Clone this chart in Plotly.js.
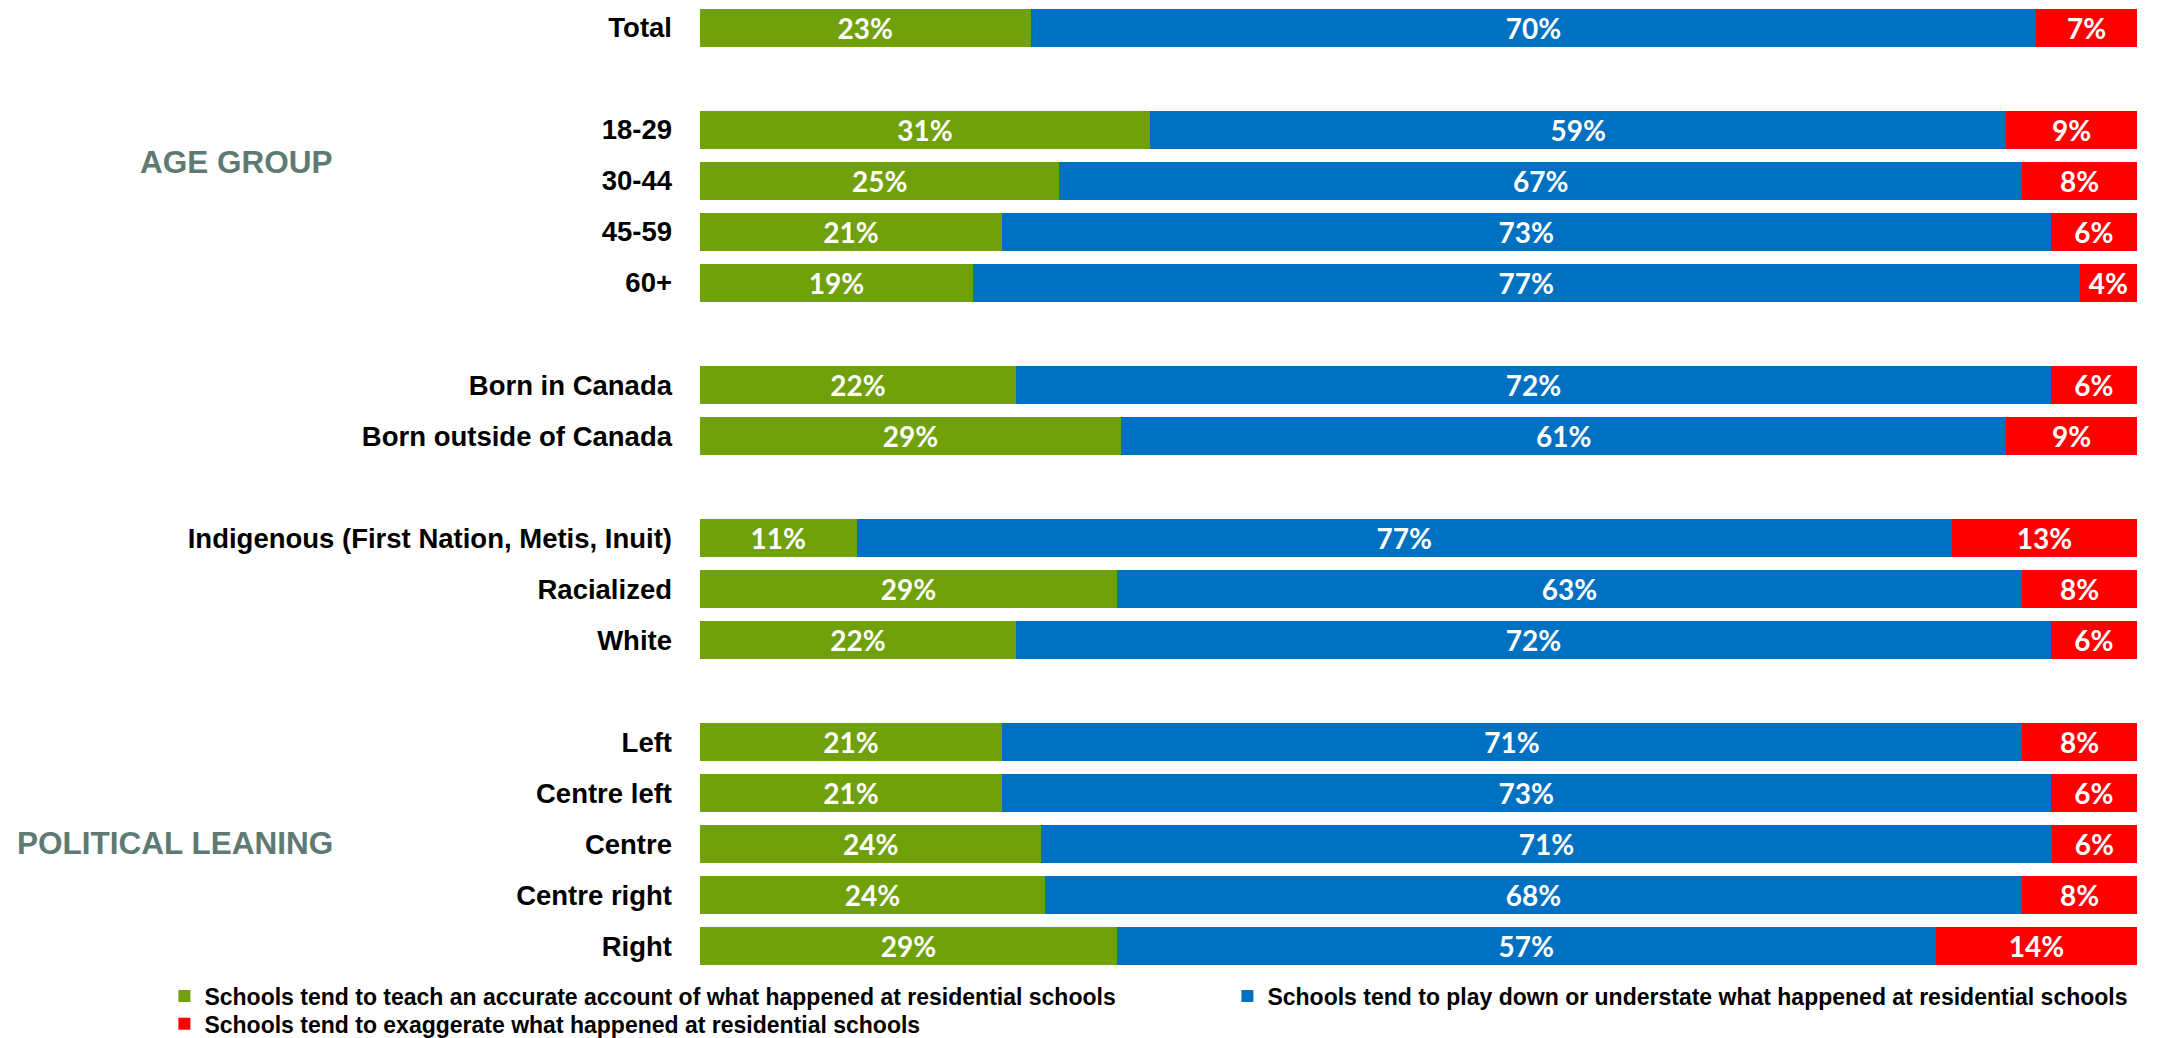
<!DOCTYPE html>
<html>
<head>
<meta charset="utf-8">
<script src="https://cdn.plot.ly/plotly-3.0.1.min.js"></script>
<style>
  html, body { margin: 0; padding: 0; background: #ffffff; }
  #chart { width: 2170px; height: 1038px; }
</style>
</head>
<body>
<div id="chart"></div>
<script>
// ---- data ----
const groups = [
  ["Total"],
  ["18-29", "30-44", "45-59", "60+"],
  ["Born in Canada", "Born outside of Canada"],
  ["Indigenous (First Nation, Metis, Inuit)", "Racialized", "White"],
  ["Left", "Centre left", "Centre", "Centre right", "Right"]
];
const accurate   = [23, 31, 25, 21, 19, 22, 29, 11, 29, 22, 21, 21, 24, 24, 29];
const playDown   = [70, 59, 67, 73, 77, 72, 61, 77, 63, 72, 71, 73, 71, 68, 57];
const exaggerate = [ 7,  9,  8,  6,  4,  6,  9, 13,  8,  6,  8,  6,  6,  8, 14];
const seriesNames = [
  "Schools tend to teach an accurate account of what happened at residential schools",
  "Schools tend to play down or understate what happened at residential schools",
  "Schools tend to exaggerate what happened at residential schools"
];
const groupLabels = ["AGE GROUP", "POLITICAL LEANING"];

// ---- layout helpers: a blank row between groups ----
const categories = [];
const slots = [];
let slot = 0;
groups.forEach((g, gi) => {
  if (gi > 0) slot += 1;
  g.forEach(name => { categories.push(name); slots.push(slot); slot += 1; });
});
const nSlots = slot;

const colors = ["#70a00a", "#0070c0", "#ff0000"];
const seriesValues = [accurate, playDown, exaggerate];
const legendIds = ["legend", "legend", "legend2"];

const traces = seriesValues.map((vals, i) => ({
  type: "bar",
  orientation: "h",
  name: seriesNames[i],
  legend: legendIds[i],
  x: vals,
  y: slots,
  text: vals.map(v => v + "%"),
  texttemplate: "%{text}",
  textposition: "inside",
  insidetextanchor: "middle",
  textangle: 0,
  constraintext: "none",
  textfont: { family: "Lato, 'Open Sans', sans-serif", size: 28, color: "#ffffff", weight: 700 },
  marker: { color: colors[i], line: { width: 0 } },
  hoverinfo: "skip"
}));

const legendFont = { family: "'Liberation Sans', Arial, sans-serif", size: 23, color: "#000000", weight: 700 };
const groupFont = { family: "'Liberation Sans', Arial, sans-serif", size: 31.5, color: "#5e7a73", weight: 700 };

const layout = {
  width: 2170,
  height: 1038,
  margin: { l: 700, r: 33, t: 2, b: 66, autoexpand: false },
  paper_bgcolor: "#ffffff",
  plot_bgcolor: "#ffffff",
  barmode: "stack",
  barnorm: "percent",
  bargap: 0.256,
  showlegend: true,
  xaxis: { visible: false, range: [0, 100], fixedrange: true },
  yaxis: {
    range: [nSlots - 0.5, -0.5],
    tickmode: "array",
    tickvals: slots,
    ticktext: categories,
    showgrid: false,
    zeroline: false,
    showline: false,
    ticks: "",
    ticklabelstandoff: 27,
    tickfont: { family: "'Liberation Sans', Arial, sans-serif", size: 27.5, color: "#000000", weight: 700 },
    automargin: false,
    fixedrange: true
  },
  legend: {
    orientation: "h",
    x: -0.3727,
    xanchor: "left",
    y: -0.0247,
    yanchor: "middle",
    entrywidth: 1018,
    entrywidthmode: "pixels",
    traceorder: "normal",
    itemwidth: 30,
    font: legendFont,
    bgcolor: "rgba(0,0,0,0)"
  },
  legend2: {
    orientation: "h",
    x: -0.3727,
    xanchor: "left",
    y: -0.0535,
    yanchor: "middle",
    itemwidth: 30,
    font: legendFont,
    bgcolor: "rgba(0,0,0,0)"
  },
  annotations: [
    { text: groupLabels[0], xref: "paper", yref: "y", x: -0.254, y: 2.64, xanchor: "right", yanchor: "middle", showarrow: false, font: groupFont },
    { text: groupLabels[1], xref: "paper", yref: "y", x: -0.254, y: 15.98, xanchor: "right", yanchor: "middle", showarrow: false, font: groupFont }
  ]
};

Plotly.newPlot("chart", traces, layout, { displayModeBar: false, staticPlot: true });
</script>
</body>
</html>
